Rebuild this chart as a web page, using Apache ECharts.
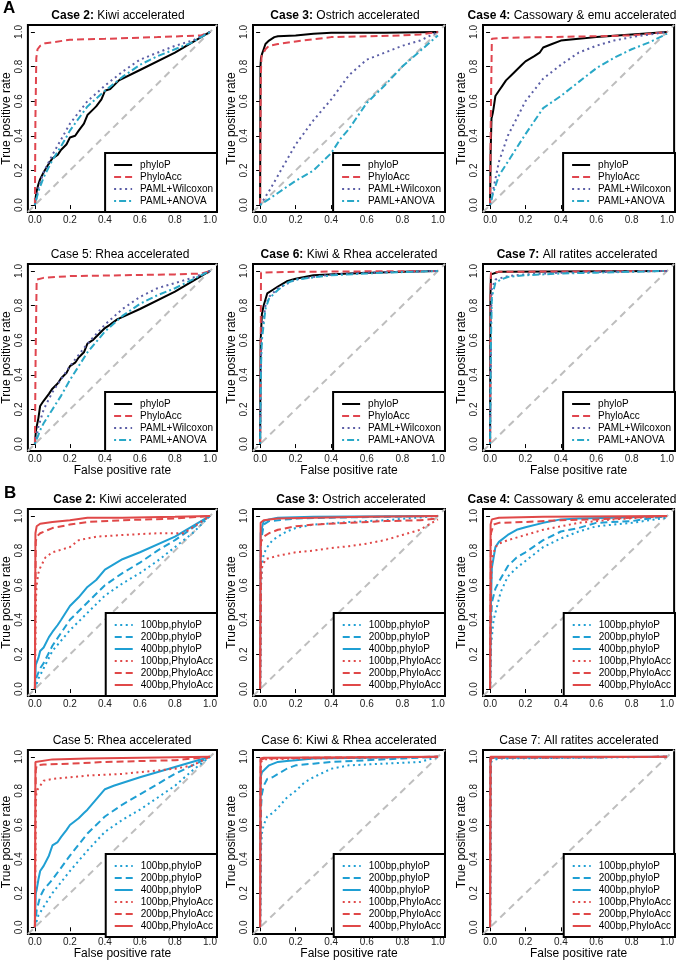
<!DOCTYPE html>
<html>
<head>
<meta charset="utf-8">
<script src="https://cdn.jsdelivr.net/npm/echarts@6/dist/echarts.min.js"></script>
<style>
  html, body { margin:0; padding:0; background:#fff; }
  #chart { width:677px; height:961px; }
</style>
</head>
<body>
<div id="chart"></div>
<script>
var ticks = [0, 0.2, 0.4, 0.6, 0.8, 1.0];
// y = x reference line (abline), spans the whole plot range
var diagonal = [[-0.04, -0.04], [1.04, 1.04]];

var namesA = ['phyloP', 'PhyloAcc', 'PAML+Wilcoxon', 'PAML+ANOVA'];
var namesB = ['100bp,phyloP', '200bp,phyloP', '400bp,phyloP', '100bp,PhyloAcc', '200bp,PhyloAcc', '400bp,PhyloAcc'];

/*----------  A: methods  ----------*/
var a2_phyloP = [[0,0],[0.005,0.05],[0.01,0.08],[0.02,0.12],[0.03,0.15],[0.05,0.19],[0.08,0.24],[0.1,0.27],[0.13,0.29],[0.15,0.32],[0.18,0.35],[0.2,0.39],[0.23,0.4],[0.25,0.43],[0.28,0.47],[0.3,0.52],[0.33,0.55],[0.35,0.57],[0.38,0.61],[0.4,0.66],[0.43,0.67],[0.45,0.69],[0.48,0.72],[0.6,0.78],[0.8,0.88],[1,1]];
var a2_phyloAcc = [[0,0],[0.003,0.5],[0.008,0.85],[0.015,0.9],[0.03,0.92],[0.06,0.935],[0.1,0.94],[0.2,0.955],[0.4,0.96],[0.7,0.97],[0.95,0.98],[1,1]];
var a2_wilcoxon = [[0,0],[0.02,0.1],[0.05,0.19],[0.1,0.29],[0.15,0.38],[0.2,0.47],[0.3,0.6],[0.4,0.69],[0.5,0.77],[0.6,0.84],[0.7,0.88],[0.8,0.92],[0.9,0.95],[1,1]];
var a2_anova = [[0,0],[0.02,0.08],[0.05,0.16],[0.1,0.26],[0.15,0.34],[0.2,0.43],[0.3,0.57],[0.4,0.66],[0.5,0.74],[0.6,0.81],[0.7,0.86],[0.8,0.9],[0.9,0.94],[1,1]];

var a3_phyloP = [[0,0],[0.002,0.8],[0.005,0.85],[0.01,0.87],[0.02,0.9],[0.03,0.93],[0.05,0.95],[0.08,0.97],[0.1,0.975],[0.2,0.98],[0.3,0.99],[0.4,0.995],[0.7,0.995],[1,1]];
var a3_phyloAcc = [[0,0],[0.004,0.75],[0.008,0.86],[0.02,0.88],[0.03,0.9],[0.05,0.92],[0.1,0.93],[0.2,0.945],[0.4,0.97],[0.6,0.975],[0.8,0.98],[0.9,0.985],[1,1]];
var a3_wilcoxon = [[0,0],[0.05,0.08],[0.1,0.17],[0.15,0.26],[0.2,0.35],[0.3,0.49],[0.4,0.61],[0.5,0.75],[0.6,0.84],[0.7,0.88],[0.8,0.92],[0.9,0.95],[1,1]];
var a3_anova = [[0,0],[0.1,0.07],[0.2,0.14],[0.3,0.2],[0.4,0.3],[0.45,0.38],[0.5,0.44],[0.6,0.59],[0.7,0.69],[0.8,0.8],[0.9,0.89],[1,0.98]];

var a4_phyloP = [[0,0],[0.003,0.3],[0.008,0.5],[0.015,0.53],[0.02,0.56],[0.03,0.63],[0.05,0.66],[0.07,0.69],[0.09,0.72],[0.12,0.75],[0.15,0.78],[0.18,0.81],[0.2,0.83],[0.25,0.86],[0.28,0.88],[0.3,0.91],[0.35,0.93],[0.4,0.95],[0.5,0.96],[0.6,0.97],[0.8,0.985],[1,1]];
var a4_phyloAcc = [[0,0],[0.004,0.5],[0.01,0.96],[0.05,0.965],[0.3,0.97],[0.6,0.975],[0.8,0.98],[1,1]];
var a4_wilcoxon = [[0,0],[0.02,0.1],[0.05,0.25],[0.1,0.4],[0.15,0.5],[0.2,0.6],[0.3,0.73],[0.4,0.81],[0.5,0.88],[0.6,0.92],[0.7,0.95],[0.8,0.97],[1,1]];
var a4_anova = [[0,0],[0.02,0.08],[0.05,0.17],[0.1,0.25],[0.15,0.33],[0.2,0.41],[0.3,0.56],[0.4,0.63],[0.5,0.71],[0.6,0.79],[0.7,0.85],[0.8,0.9],[0.9,0.94],[1,0.99]];

var a5_phyloP = [[0,0],[0.005,0.07],[0.01,0.1],[0.02,0.15],[0.03,0.22],[0.05,0.25],[0.08,0.29],[0.1,0.32],[0.13,0.35],[0.15,0.38],[0.18,0.41],[0.2,0.45],[0.23,0.47],[0.25,0.5],[0.28,0.53],[0.3,0.58],[0.33,0.6],[0.35,0.62],[0.38,0.65],[0.4,0.67],[0.43,0.69],[0.47,0.72],[0.6,0.78],[0.8,0.88],[1,1]];
var a5_phyloAcc = [[0,0],[0.004,0.5],[0.01,0.95],[0.05,0.96],[0.2,0.97],[0.5,0.975],[0.8,0.98],[0.95,0.985],[1,1]];
var a5_wilcoxon = [[0,0],[0.02,0.1],[0.05,0.2],[0.1,0.3],[0.2,0.45],[0.3,0.58],[0.4,0.69],[0.5,0.78],[0.6,0.85],[0.7,0.9],[0.8,0.93],[0.9,0.96],[1,1]];
var a5_anova = [[0,0],[0.03,0.08],[0.05,0.12],[0.1,0.2],[0.15,0.28],[0.2,0.37],[0.3,0.53],[0.4,0.65],[0.5,0.74],[0.6,0.81],[0.7,0.86],[0.8,0.9],[0.9,0.95],[1,1]];

var a6_phyloP = [[0,0],[0.003,0.6],[0.01,0.75],[0.02,0.8],[0.04,0.87],[0.07,0.89],[0.1,0.91],[0.15,0.94],[0.2,0.955],[0.3,0.975],[0.5,0.985],[0.8,0.995],[1,1]];
var a6_phyloAcc = [[0,0],[0.003,0.5],[0.005,0.99],[0.2,0.995],[1,1]];
var a6_wilcoxon = [[0,0],[0.005,0.5],[0.01,0.65],[0.03,0.8],[0.05,0.85],[0.1,0.9],[0.2,0.95],[0.4,0.98],[0.6,0.99],[1,1]];
var a6_anova = [[0,0],[0.005,0.45],[0.01,0.6],[0.03,0.78],[0.05,0.84],[0.1,0.89],[0.15,0.93],[0.2,0.95],[0.4,0.975],[0.7,0.99],[1,1]];

var a7_phyloP = [[0,0],[0.002,0.85],[0.005,0.98],[0.01,0.99],[0.05,0.995],[1,1]];
var a7_phyloAcc = [[0,0],[0.003,0.9],[0.005,0.99],[0.05,0.995],[1,1]];
var a7_wilcoxon = [[0,0],[0.005,0.7],[0.01,0.9],[0.03,0.95],[0.1,0.97],[0.2,0.98],[0.4,0.99],[1,1]];
var a7_anova = [[0,0],[0.005,0.6],[0.01,0.85],[0.03,0.93],[0.06,0.95],[0.1,0.965],[0.2,0.975],[0.4,0.985],[0.6,0.99],[1,1]];

/*----------  B: element length  ----------*/
var b2_p100 = [[0,0],[0.02,0.06],[0.05,0.12],[0.1,0.22],[0.2,0.34],[0.3,0.44],[0.4,0.54],[0.5,0.61],[0.6,0.67],[0.7,0.74],[0.8,0.82],[0.9,0.9],[1,1]];
var b2_p200 = [[0,0],[0.01,0.07],[0.03,0.12],[0.05,0.15],[0.1,0.25],[0.2,0.4],[0.3,0.5],[0.4,0.6],[0.5,0.67],[0.6,0.73],[0.7,0.8],[0.8,0.86],[0.9,0.93],[1,1]];
var b2_p400 = [[0,0],[0.005,0.14],[0.02,0.18],[0.03,0.22],[0.05,0.24],[0.08,0.3],[0.1,0.33],[0.13,0.37],[0.15,0.4],[0.2,0.48],[0.25,0.53],[0.3,0.59],[0.35,0.63],[0.4,0.69],[0.45,0.72],[0.5,0.75],[0.6,0.79],[0.8,0.88],[1,1]];
var b2_a100 = [[0,0],[0.005,0.5],[0.01,0.6],[0.02,0.67],[0.03,0.7],[0.06,0.76],[0.1,0.79],[0.2,0.82],[0.25,0.86],[0.35,0.88],[0.5,0.89],[0.7,0.9],[0.85,0.9],[1,1]];
var b2_a200 = [[0,0],[0.005,0.85],[0.01,0.88],[0.03,0.9],[0.1,0.93],[0.2,0.95],[0.3,0.965],[0.5,0.975],[0.8,0.985],[1,1]];
var b2_a400 = [[0,0],[0.003,0.9],[0.01,0.94],[0.03,0.955],[0.1,0.965],[0.2,0.975],[0.3,0.99],[0.5,0.99],[0.8,0.995],[1,1]];

var b3_p100 = [[0,0],[0.005,0.6],[0.01,0.7],[0.02,0.78],[0.04,0.82],[0.07,0.86],[0.1,0.88],[0.15,0.91],[0.2,0.93],[0.3,0.95],[0.5,0.965],[0.7,0.975],[1,1]];
var b3_p200 = [[0,0],[0.005,0.85],[0.02,0.95],[0.05,0.97],[0.1,0.975],[0.2,0.985],[0.4,0.99],[1,1]];
var b3_p400 = [[0,0],[0.003,0.9],[0.02,0.97],[0.05,0.98],[0.1,0.99],[0.3,0.995],[1,1]];
var b3_a100 = [[0,0],[0.005,0.6],[0.01,0.7],[0.03,0.75],[0.1,0.77],[0.2,0.79],[0.3,0.8],[0.4,0.815],[0.5,0.825],[0.6,0.84],[0.7,0.86],[0.8,0.89],[0.9,0.92],[1,0.98]];
var b3_a200 = [[0,0],[0.005,0.85],[0.02,0.88],[0.05,0.9],[0.1,0.92],[0.2,0.94],[0.3,0.95],[0.5,0.96],[0.7,0.97],[0.9,0.975],[1,0.985]];
var b3_a400 = [[0,0],[0.003,0.96],[0.02,0.975],[0.1,0.985],[0.3,0.99],[0.6,0.995],[1,1]];

var b4_p100 = [[0,0],[0.005,0.25],[0.01,0.3],[0.02,0.4],[0.04,0.48],[0.06,0.56],[0.1,0.65],[0.15,0.7],[0.2,0.74],[0.3,0.82],[0.4,0.87],[0.5,0.91],[0.6,0.94],[0.8,0.96],[1,0.99]];
var b4_p200 = [[0,0],[0.005,0.35],[0.01,0.5],[0.03,0.58],[0.05,0.62],[0.1,0.71],[0.15,0.76],[0.2,0.79],[0.3,0.86],[0.4,0.91],[0.5,0.93],[0.6,0.96],[0.8,0.97],[1,1]];
var b4_p400 = [[0,0],[0.005,0.5],[0.01,0.7],[0.02,0.76],[0.03,0.82],[0.05,0.85],[0.1,0.89],[0.15,0.92],[0.2,0.935],[0.3,0.96],[0.4,0.98],[0.5,0.985],[0.7,0.99],[1,1]];
var b4_a100 = [[0,0],[0.005,0.6],[0.01,0.75],[0.03,0.82],[0.05,0.84],[0.1,0.86],[0.2,0.89],[0.3,0.92],[0.4,0.94],[0.5,0.96],[0.7,0.98],[1,1]];
var b4_a200 = [[0,0],[0.005,0.9],[0.02,0.95],[0.05,0.96],[0.2,0.965],[0.4,0.975],[0.6,0.98],[0.8,0.99],[1,1]];
var b4_a400 = [[0,0],[0.003,0.95],[0.01,0.98],[0.05,0.99],[0.3,0.995],[1,1]];

var b5_p100 = [[0,0],[0.02,0.07],[0.05,0.12],[0.1,0.2],[0.2,0.33],[0.3,0.45],[0.4,0.56],[0.5,0.63],[0.6,0.69],[0.7,0.76],[0.8,0.83],[0.9,0.92],[1,1]];
var b5_p200 = [[0,0],[0.01,0.1],[0.03,0.18],[0.05,0.22],[0.1,0.28],[0.2,0.42],[0.3,0.55],[0.4,0.65],[0.5,0.72],[0.6,0.78],[0.7,0.84],[0.8,0.9],[0.9,0.95],[1,1]];
var b5_p400 = [[0,0],[0.005,0.2],[0.01,0.22],[0.02,0.28],[0.03,0.33],[0.05,0.36],[0.08,0.42],[0.1,0.48],[0.13,0.5],[0.15,0.53],[0.18,0.57],[0.2,0.6],[0.25,0.64],[0.28,0.67],[0.3,0.69],[0.35,0.75],[0.4,0.81],[0.45,0.83],[0.6,0.88],[0.8,0.94],[1,1]];
var b5_a100 = [[0,0],[0.005,0.75],[0.01,0.8],[0.03,0.83],[0.05,0.86],[0.1,0.87],[0.2,0.88],[0.3,0.89],[0.5,0.9],[0.6,0.91],[0.7,0.92],[0.8,0.93],[0.9,0.95],[1,1]];
var b5_a200 = [[0,0],[0.005,0.92],[0.01,0.95],[0.05,0.955],[0.2,0.96],[0.4,0.97],[0.6,0.975],[0.8,0.98],[1,1]];
var b5_a400 = [[0,0],[0.003,0.97],[0.01,0.98],[0.1,0.985],[0.3,0.99],[0.6,0.995],[1,1]];

var b6_p100 = [[0,0],[0.005,0.45],[0.01,0.55],[0.02,0.6],[0.04,0.65],[0.07,0.67],[0.1,0.7],[0.15,0.76],[0.2,0.8],[0.25,0.85],[0.3,0.88],[0.4,0.93],[0.5,0.95],[0.7,0.96],[0.9,0.97],[1,1]];
var b6_p200 = [[0,0],[0.005,0.7],[0.01,0.78],[0.02,0.83],[0.04,0.87],[0.07,0.88],[0.1,0.9],[0.15,0.93],[0.2,0.95],[0.3,0.96],[0.4,0.97],[0.6,0.98],[0.8,0.99],[1,1]];
var b6_p400 = [[0,0],[0.003,0.88],[0.01,0.91],[0.03,0.93],[0.05,0.95],[0.1,0.97],[0.15,0.975],[0.2,0.98],[0.3,0.99],[0.6,0.995],[1,1]];
var b6_a100 = [[0,0],[0.005,0.97],[0.02,0.985],[0.2,0.99],[1,1]];
var b6_a200 = [[0,0],[0.003,0.98],[0.02,0.99],[0.3,0.995],[1,1]];
var b6_a400 = [[0,0],[0.002,0.99],[0.02,0.995],[1,1]];

var b7_p100 = [[0,0],[0.005,0.97],[0.02,0.98],[0.05,0.99],[1,1]];
var b7_p200 = [[0,0],[0.003,0.99],[0.02,0.995],[1,1]];
var b7_p400 = [[0,0],[0.003,0.99],[0.02,0.995],[1,1]];
var b7_a100 = [[0,0],[0.003,0.99],[0.02,0.995],[1,1]];
var b7_a200 = [[0,0],[0.003,0.99],[0.02,0.995],[1,1]];
var b7_a400 = [[0,0],[0.002,1],[1,1]];

/*----------  styles  ----------*/
var RED = '#E0454F', WIL = '#5B5EA6', ANO = '#29A8C7', CY = '#1F9FD3', RD = '#E04848';
var DASH = [7, 4], DOT = [2, 3.5], DOTDASH = [2, 3, 7, 3];
var stylesA = [
    {color: '#000', type: 'solid'},
    {color: RED, type: DASH},
    {color: WIL, type: DOT},
    {color: ANO, type: DOTDASH}
];
var stylesB = [
    {color: CY, type: DOT},
    {color: CY, type: DASH},
    {color: CY, type: 'solid'},
    {color: RD, type: DOT},
    {color: RD, type: DASH},
    {color: RD, type: 'solid'}
];

var colLeft = [25, 253, 483];
var rowTop = [25, 264, 509, 750];
var boxW = 192, boxH = 187;
var W = 677, H = 961;

var panels = [
    {row:0, col:0, num:'Case 2:', rest:' Kiwi accelerated', bold:true, tx:118, lines:[a2_phyloP, a2_phyloAcc, a2_wilcoxon, a2_anova]},
    {row:0, col:1, num:'Case 3:', rest:' Ostrich accelerated', bold:true, tx:345, lines:[a3_phyloP, a3_phyloAcc, a3_wilcoxon, a3_anova]},
    {row:0, col:2, num:'Case 4:', rest:' Cassowary & emu accelerated', bold:true, tx:572, lines:[a4_phyloP, a4_phyloAcc, a4_wilcoxon, a4_anova]},
    {row:1, col:0, num:'Case 5:', rest:' Rhea accelerated', bold:false, tx:120, lines:[a5_phyloP, a5_phyloAcc, a5_wilcoxon, a5_anova]},
    {row:1, col:1, num:'Case 6:', rest:' Kiwi & Rhea accelerated', bold:true, tx:349, lines:[a6_phyloP, a6_phyloAcc, a6_wilcoxon, a6_anova]},
    {row:1, col:2, num:'Case 7:', rest:' All ratites accelerated', bold:true, tx:577, lines:[a7_phyloP, a7_phyloAcc, a7_wilcoxon, a7_anova]},
    {row:2, col:0, num:'Case 2:', rest:' Kiwi accelerated', bold:true, tx:120, lines:[b2_p100, b2_p200, b2_p400, b2_a100, b2_a200, b2_a400]},
    {row:2, col:1, num:'Case 3:', rest:' Ostrich accelerated', bold:true, tx:351, lines:[b3_p100, b3_p200, b3_p400, b3_a100, b3_a200, b3_a400]},
    {row:2, col:2, num:'Case 4:', rest:' Cassowary & emu accelerated', bold:true, tx:572, lines:[b4_p100, b4_p200, b4_p400, b4_a100, b4_a200, b4_a400]},
    {row:3, col:0, num:'Case 5:', rest:' Rhea accelerated', bold:false, tx:122, lines:[b5_p100, b5_p200, b5_p400, b5_a100, b5_a200, b5_a400]},
    {row:3, col:1, num:'Case 6:', rest:' Kiwi & Rhea accelerated', bold:false, tx:349, lines:[b6_p100, b6_p200, b6_p400, b6_a100, b6_a200, b6_a400]},
    {row:3, col:2, num:'Case 7:', rest:' All ratites accelerated', bold:false, tx:579, lines:[b7_p100, b7_p200, b7_p400, b7_a100, b7_a200, b7_a400]}
];

var FONT = '"Liberation Sans", Arial, Helvetica, sans-serif';
var fmt = function (v) { return v.toFixed(1); };

var grids = [], xAxes = [], yAxes = [], series = [], legends = [], titles = [];

titles.push({text: 'A', left: 3, top: 0, padding: 0, textStyle: {fontSize: 17, fontWeight: 'bold', color: '#000', fontFamily: FONT}});
titles.push({text: 'B', left: 4, top: 485, padding: 0, textStyle: {fontSize: 17, fontWeight: 'bold', color: '#000', fontFamily: FONT}});

panels.forEach(function (p, i) {
    var isA = p.row < 2;
    var names = isA ? namesA : namesB;
    var styles = isA ? stylesA : stylesB;
    var left = colLeft[p.col], top = rowTop[p.row];
    var showXName = (p.row === 1 || p.row === 3);

    grids.push({left: left, top: top, width: boxW, height: boxH, show: true,
        borderColor: '#000', borderWidth: 2, backgroundColor: 'transparent'});

    xAxes.push({
        gridIndex: i, type: 'value', min: -0.04, max: 1.04,
        axisLine: {show: false}, splitLine: {show: false},
        axisTick: {show: true, customValues: ticks, length: 4, lineStyle: {color: '#000', width: 1}},
        axisLabel: {customValues: ticks, formatter: fmt, fontSize: 10, color: '#222', margin: 3, fontFamily: FONT},
        name: showXName ? 'False positive rate' : '', nameLocation: 'middle', nameGap: 12,
        nameTextStyle: {fontSize: 12, color: '#000', fontFamily: FONT}
    });
    yAxes.push({
        gridIndex: i, type: 'value', min: -0.04, max: 1.04,
        axisLine: {show: false}, splitLine: {show: false},
        axisTick: {show: true, customValues: ticks, length: 4, lineStyle: {color: '#000', width: 1}},
        axisLabel: {customValues: ticks, formatter: fmt, fontSize: 10, color: '#222', margin: 4, rotate: 90, fontFamily: FONT},
        name: 'True positive rate', nameLocation: 'middle', nameGap: 14,
        nameTextStyle: {fontSize: 12, color: '#000', fontFamily: FONT}
    });

    series.push({
        type: 'line', xAxisIndex: i, yAxisIndex: i, data: diagonal, symbol: 'none', silent: true,
        lineStyle: {color: '#BEBEBE', width: 2, type: [7, 5]}, z: 1
    });
    p.lines.forEach(function (d, k) {
        series.push({
            name: names[k], type: 'line', xAxisIndex: i, yAxisIndex: i, data: d,
            symbol: 'none', silent: true, z: 2 + k,
            lineStyle: {color: styles[k].color, width: 2, type: styles[k].type},
            itemStyle: {color: styles[k].color}
        });
    });

    legends.push({
        data: names, orient: 'vertical', selectedMode: false,
        right: W - (left + boxW), bottom: H - (top + boxH),
        backgroundColor: '#fff', borderColor: '#000', borderWidth: 2, borderRadius: 0,
        padding: [7, 4, 6, 8], itemWidth: 18, itemHeight: 10, itemGap: 2,
        itemStyle: {opacity: 0},
        textStyle: {fontSize: 10, color: '#000', fontFamily: FONT, padding: [0, 0, 0, 3]}
    });

    titles.push({
        text: p.bold ? '{b|' + p.num + '}' + p.rest : p.num + p.rest,
        left: p.tx, top: top - 15, textAlign: 'center', padding: 0,
        textStyle: {fontSize: 12, fontWeight: 'normal', color: '#000', fontFamily: FONT,
            rich: {b: {fontSize: 12, fontWeight: 'bold', color: '#000', fontFamily: FONT}}}
    });
});

var chart = echarts.init(document.getElementById('chart'));
chart.setOption({
    backgroundColor: '#fff',
    animation: false,
    title: titles,
    grid: grids,
    xAxis: xAxes,
    yAxis: yAxes,
    legend: legends,
    series: series
});
</script>
</body>
</html>
